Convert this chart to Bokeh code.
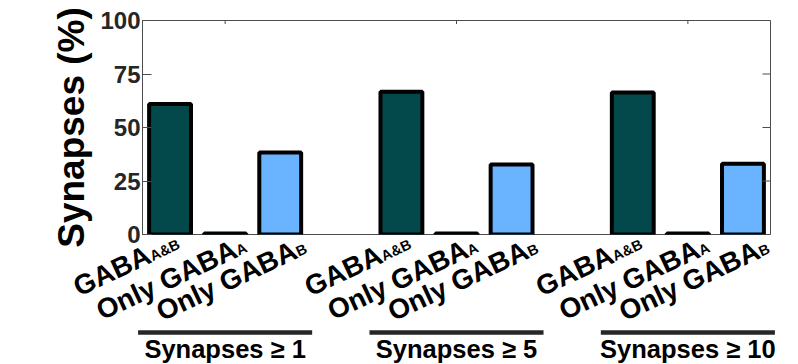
import numpy as np
from bokeh.plotting import figure
from bokeh.models import ColumnDataSource, Range1d, FixedTicker
from bokeh.core.properties import value
from bokeh.embed import file_html
from bokeh.resources import INLINE

# ---------------- data ----------------
groups = ["Synapses \u2265 1", "Synapses \u2265 5", "Synapses \u2265 10"]
label_main = ["GABA", "Only GABA", "Only GABA"]
label_sub = ["A&B", "A", "B"]
gaba_ab = [61.0, 66.7, 66.3]
only_a = [0.5, 0.5, 0.5]
only_b = [38.3, 32.7, 33.1]
y_ticks = [0, 25, 50, 75, 100]
y_title = "Synapses (%)"

# ---------------- layout ----------------
W, H = 798, 364
BL, BR, BT, BB = 142, 28, 20, 130
FW = W - BL - BR
FH = H - BT - BB
GROUP_STEP = 4.2
X0 = 0.5
X1 = 1 + 2 * GROUP_STEP + 2 + 0.5
PXX = FW / (X1 - X0)
PXY = FH / 100.0
FNAME = "Liberation Sans"
FONT = value(FNAME)
TEAL = "#03484a"
LIGHT = "#6ab4ff"
AX = "#4d4d4d"

series = [gaba_ab, only_a, only_b]
fills = [TEAL, TEAL, LIGHT]

xs, tops, cols, mains, subs = [], [], [], [], []
for g in range(len(groups)):
    for c in range(3):
        xs.append(1 + g * GROUP_STEP + c)
        tops.append(series[c][g])
        cols.append(fills[c])
        mains.append(label_main[c])
        subs.append(label_sub[c])
mids = [1 + g * GROUP_STEP + 1 for g in range(len(groups))]

p = figure(width=W, height=H, output_backend="svg", toolbar_location=None,
           x_range=Range1d(X0, X1), y_range=Range1d(0, 100),
           x_axis_location=None, y_axis_location="left",
           min_border_left=BL, min_border_right=BR,
           min_border_top=BT, min_border_bottom=BB)
p.grid.grid_line_color = None
p.outline_line_color = AX
p.outline_line_width = 1
p.background_fill_color = "white"
p.border_fill_color = "white"

bars = ColumnDataSource(dict(x=xs, top=tops, color=cols))
p.vbar(x="x", top="top", bottom=0, width=0.76, source=bars,
       fill_color="color", line_color="black", line_width=4)

# left axis
ya = p.yaxis[0]
ya.ticker = FixedTicker(ticks=y_ticks)
ya.major_tick_in = 9
ya.major_tick_out = 0
ya.minor_tick_line_color = None
ya.major_tick_line_color = AX
ya.axis_line_color = AX
ya.major_label_text_font = FNAME
ya.major_label_text_font_style = "bold"
ya.major_label_text_font_size = "24px"
ya.major_label_text_color = "#262626"
ya.major_label_standoff = 2
ya.axis_label = y_title
ya.axis_label_text_font = FNAME
ya.axis_label_text_font_style = "bold"
ya.axis_label_text_font_size = "37px"
ya.axis_label_text_color = "black"
ya.axis_label_standoff = 5

# inward ticks on the right and top edges of the box
p.segment(x0=[X1 - 8 / PXX] * len(y_ticks), x1=[X1] * len(y_ticks),
          y0=y_ticks, y1=y_ticks, line_color=AX, line_width=1)
p.segment(x0=mids, x1=mids, y0=[100] * len(mids), y1=[100 - 3.5 / PXY] * len(mids),
          line_color=AX, line_width=1)

# rotated tick labels with subscripts
ang = np.deg2rad(25)
offs = {"A&B": (-21, 19), "A": (10, 13.5), "B": (15, 14.5)}
drop = 3.5
mx, my, sx, sy = [], [], [], []
for x, s in zip(xs, subs):
    dx, dy = offs[s]
    mx.append(x + dx / PXX)
    my.append(-dy / PXY)
    sx.append(x + (dx + drop * np.sin(ang)) / PXX)
    sy.append(-(dy + drop * np.cos(ang)) / PXY)
r1 = p.text(x=mx, y=my, text=mains, angle=ang, text_align="right",
            text_baseline="alphabetic", text_font=FONT, text_font_style="bold",
            text_font_size="27.8px", text_color="black")
r1.level = "overlay"
r2 = p.text(x=sx, y=sy, text=subs, angle=ang, text_align="left",
            text_baseline="alphabetic", text_font=FONT, text_font_style="bold",
            text_font_size="14.5px", text_color="black")
r2.level = "overlay"

# group lines and labels
half = 1.58
r3 = p.segment(x0=[m - half for m in mids], x1=[m + half for m in mids],
               y0=[-98 / PXY] * 3, y1=[-98 / PXY] * 3,
               line_color="#262626", line_width=4.5)
r3.level = "overlay"
r4 = p.text(x=mids, y=[-114 / PXY] * 3, text=groups, text_align="center",
            text_baseline="alphabetic", text_font=FONT, text_font_style="bold",
            text_font_size="25.5px", text_color="black")
r4.level = "overlay"

open("out.html", "w").write(file_html(p, INLINE))
